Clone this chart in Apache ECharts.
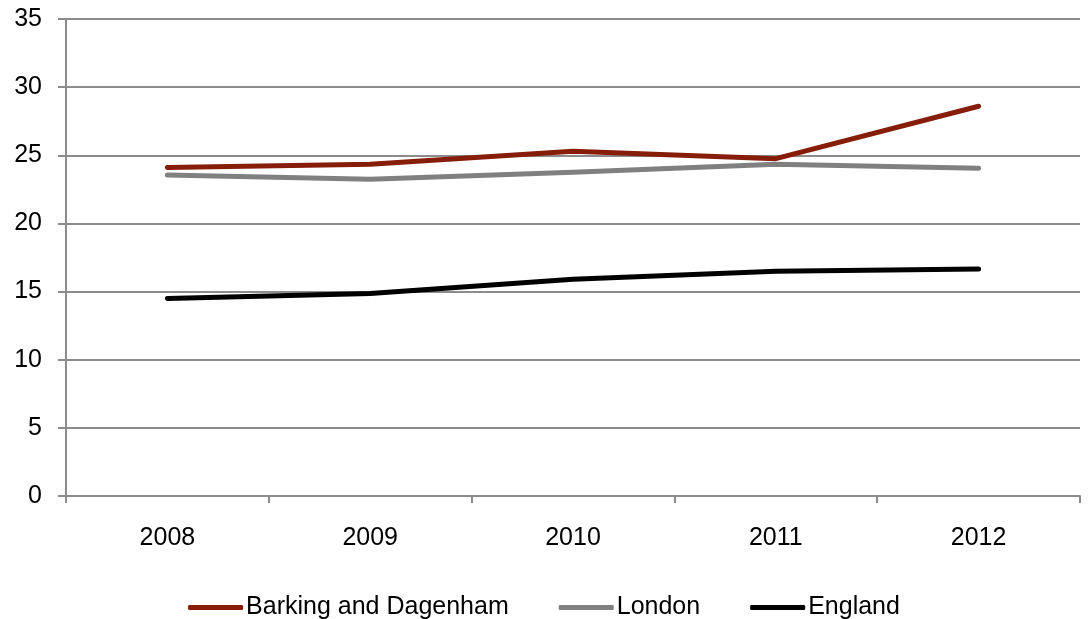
<!DOCTYPE html>
<html>
<head>
<meta charset="utf-8">
<script src="https://cdn.jsdelivr.net/npm/echarts@6/dist/echarts.min.js"></script>
<style>
  html, body { margin: 0; padding: 0; background: #fff; }
  #chart { width: 1088px; height: 619px; }
</style>
</head>
<body>
<div id="chart"></div>
<script>
const years = ['2008', '2009', '2010', '2011', '2012'];
const barking = [24.1, 24.35, 25.3, 24.75, 28.6];
const london = [23.55, 23.25, 23.75, 24.35, 24.05];
const england = [14.5, 14.85, 15.9, 16.5, 16.65];

const font = 'Liberation Sans, Arial, sans-serif';
const axisGray = '#8c8c8c';

const chart = echarts.init(document.getElementById('chart'));

const makeSeries = (name, data, color) => ({
    name: name,
    type: 'line',
    data: data,
    showSymbol: false,
    symbol: 'none',
    lineStyle: { color: color, width: 5, cap: 'round', join: 'round' },
    itemStyle: { color: color }
});

chart.setOption({
    animation: false,
    grid: {
        left: 66,
        right: 8,
        top: 19,
        bottom: 123,
        containLabel: false
    },
    legend: {
        top: 590,
        left: 'center',
        itemWidth: 55,
        itemHeight: 5,
        itemGap: 50,
        icon: 'roundRect',
        textStyle: { fontFamily: font, fontSize: 25, color: '#000', padding: [0, 0, 0, -2] },
        data: ['Barking and Dagenham', 'London', 'England']
    },
    xAxis: {
        type: 'category',
        data: years,
        boundaryGap: true,
        axisLine: { lineStyle: { color: axisGray, width: 2 } },
        axisTick: { show: true, length: 7, lineStyle: { color: axisGray, width: 2 } },
        axisLabel: { fontFamily: font, fontSize: 25, color: '#000', margin: 30 },
        splitLine: { show: false }
    },
    yAxis: {
        type: 'value',
        min: 0,
        max: 35,
        interval: 5,
        axisLine: { show: true, lineStyle: { color: axisGray, width: 2 } },
        axisTick: { show: true, length: 8, lineStyle: { color: axisGray, width: 2 } },
        axisLabel: { fontFamily: font, fontSize: 25, color: '#000', margin: 24 },
        splitLine: { show: true, lineStyle: { color: axisGray, width: 2 } }
    },
    series: [
        makeSeries('Barking and Dagenham', barking, '#861d09'),
        makeSeries('London', london, '#808080'),
        makeSeries('England', england, '#000000')
    ]
});
</script>
</body>
</html>
